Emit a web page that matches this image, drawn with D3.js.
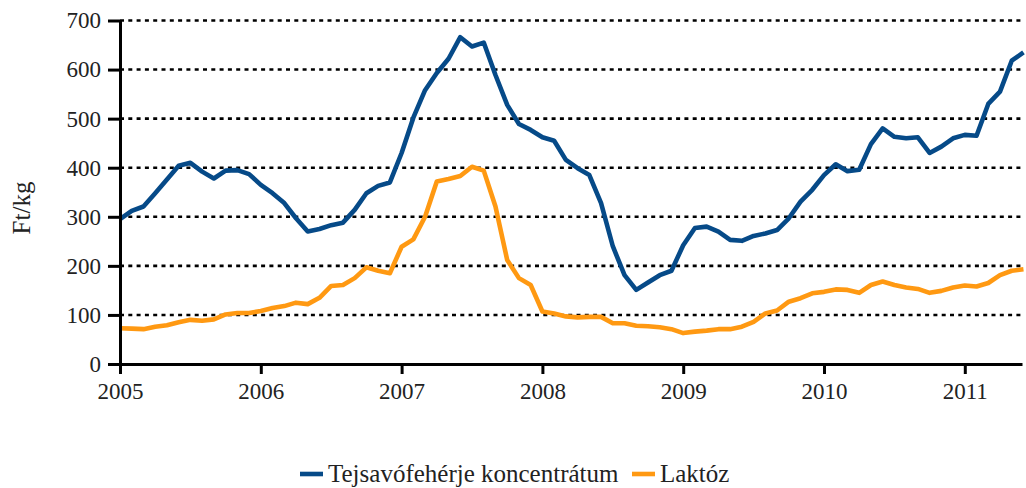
<!DOCTYPE html>
<html>
<head>
<meta charset="utf-8">
<script src="https://cdn.jsdelivr.net/npm/d3@7"></script>
<style>
body { margin: 0; background: #fff; }
</style>
</head>
<body>
<div id="chart"></div>
<script>
// monthly values, Jan 2005 .. Jun 2011
var startYear = 2005;
var yearTicks = [2005, 2006, 2007, 2008, 2009, 2010, 2011];
var yTicks = [0, 100, 200, 300, 400, 500, 600, 700];

var wpc = [295, 312, 321, 348, 376, 404, 410, 392, 378, 394, 395, 387,
           365, 348, 328, 297, 270, 275, 283, 288, 314, 348, 363, 370,
           430, 502, 558, 593, 622, 666, 647, 655, 589, 528, 489, 477,
           462, 455, 416, 399, 385, 328, 240, 181, 151, 166, 181, 190,
           242, 277, 280, 270, 253, 251, 261, 266, 273, 297, 331, 355,
           385, 407, 393, 396, 448, 480, 463, 460, 462, 430, 443, 460,
           467, 465, 530, 555, 618, 635];

var lactose = [73, 72, 71, 76, 79, 85, 90, 88, 91, 101, 104, 104,
               108, 114, 118, 125, 122, 135, 159, 161, 175, 197, 190, 185,
               239, 254, 300, 372, 377, 383, 402, 394, 321, 212, 175, 161,
               107, 103, 97, 95, 96, 96, 83, 83, 78, 77, 75, 71,
               63, 66, 68, 71, 71, 76, 86, 103, 109, 127, 134, 144,
               147, 152, 151, 145, 161, 168, 161, 156, 153, 145, 149, 156,
               160, 158, 165, 181, 190, 193];

var seriesNames = ["Tejsavófehérje koncentrátum", "Laktóz"];
var colors = ["#064a88", "#ff9912"];
var fontFam = "Liberation Serif, DejaVu Serif, serif";

var margin = {top: 20.5, left: 120, right: 4, bottom: 124},
    width = 1026 - margin.left - margin.right,
    height = 488 - margin.top - margin.bottom;

var svg = d3.select("#chart")
  .append("svg")
  .attr("width", 1026)
  .attr("height", 488)
  .attr("font-family", fontFam);

var g = svg.append("g")
  .attr("transform", "translate(" + margin.left + "," + margin.top + ")");

var pxPerYear = 140.8;
var x = d3.scaleLinear()
  .domain([startYear, startYear + width / pxPerYear])
  .range([0, width]);

var y = d3.scaleLinear()
  .domain([0, 700])
  .range([height, 0]);

// dotted grid
g.append("g")
  .selectAll("line")
  .data(yTicks.filter(function(d){ return d > 0; }))
  .enter()
  .append("line")
  .attr("x1", 0)
  .attr("x2", width)
  .attr("y1", function(d){ return y(d); })
  .attr("y2", function(d){ return y(d); })
  .attr("stroke", "#000")
  .attr("stroke-width", 2.6)
  .attr("stroke-dasharray", "4,4.3");

// lines
var line = d3.line()
  .x(function(d, i){ return x(startYear + i / 12); })
  .y(function(d){ return y(d); });

[wpc, lactose].forEach(function(s, k){
  g.append("path")
    .datum(s)
    .attr("fill", "none")
    .attr("stroke", colors[k])
    .attr("stroke-width", 4.6)
    .attr("stroke-linejoin", "round")
    .attr("d", line);
});

// axes
var xAxis = g.append("g")
  .attr("transform", "translate(0," + height + ")")
  .call(d3.axisBottom(x).tickValues(yearTicks).tickFormat(d3.format("d")).tickSize(10).tickSizeOuter(0).tickPadding(7));

var yAxis = g.append("g")
  .call(d3.axisLeft(y).tickValues(yTicks).tickSize(12).tickSizeOuter(0).tickPadding(7));

[xAxis, yAxis].forEach(function(a){
  a.attr("font-family", fontFam).attr("font-size", 23);
  a.select(".domain").attr("stroke", "#000").attr("stroke-width", 3);
  a.selectAll(".tick line").attr("stroke", "#000").attr("stroke-width", 3);
  a.selectAll(".tick text")
    .attr("font-family", fontFam)
    .attr("font-size", 23)
    .attr("fill", "#222");
});
xAxis.selectAll(".tick text").attr("dy", "0.8em");

// y label
svg.append("text")
  .text("Ft/kg")
  .attr("text-anchor", "middle")
  .attr("font-family", fontFam)
  .attr("font-size", 25)
  .attr("fill", "#222")
  .attr("transform", "translate(30,208)rotate(-90)");

// legend
var legend = svg.append("g").attr("transform", "translate(0,474)");
var legendX = [300, 632];
seriesNames.forEach(function(name, k){
  legend.append("line")
    .attr("x1", legendX[k])
    .attr("x2", legendX[k] + 23)
    .attr("y1", 0)
    .attr("y2", 0)
    .attr("stroke", colors[k])
    .attr("stroke-width", 4.6);
  legend.append("text")
    .text(name)
    .attr("x", legendX[k] + 28)
    .attr("y", 7.5)
    .attr("font-family", fontFam)
    .attr("font-size", 25)
    .attr("fill", "#222");
});
</script>
</body>
</html>
